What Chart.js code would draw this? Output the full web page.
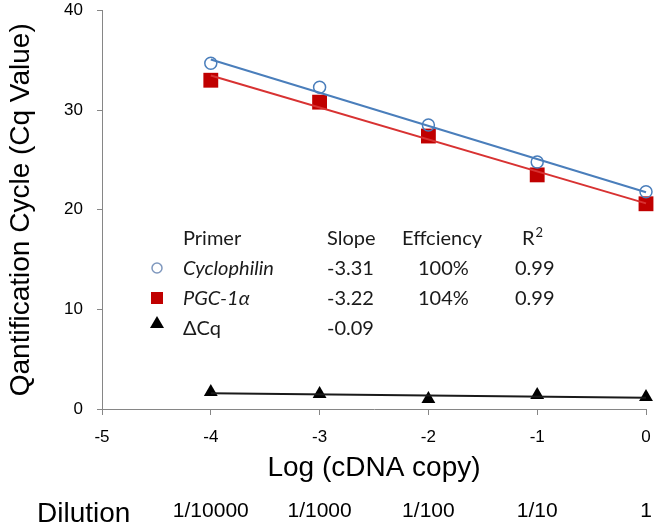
<!DOCTYPE html>
<html><head><meta charset="utf-8">
<script src="https://cdn.jsdelivr.net/npm/chart.js@4/dist/chart.umd.min.js"></script>
<style>html,body{margin:0;padding:0;background:#fff;overflow:hidden}#wrap{width:657px;height:527px;position:relative}</style>
</head><body><div id="wrap"><canvas id="c" width="657" height="527"></canvas></div>
<script>
// ---- data ----
const logCopy = [-4, -3, -2, -1, 0];
const dilutionLabels = ['1/10000', '1/1000', '1/100', '1/10', '1'];
const cyclophilin = [34.7, 32.3, 28.5, 24.8, 21.8];
const pgc1a = [33.0, 30.8, 27.4, 23.5, 20.6];
const deltaCq = [1.7, 1.5, 1.0, 1.4, 1.2];
const xRange = [-5, 0];
const yRange = [0, 40];
const tableHeader = ['Primer', 'Slope', 'Effciency', 'R'];
const primerNames = ['Cyclophilin', 'PGC-1α', 'ΔCq'];
const slopes = ['-3.31', '-3.22', '-0.09'];
const efficiencies = ['100%', '104%', ''];
const rSquared = ['0.99', '0.99', ''];

// linear trendline endpoints derived from the data
function trend(xs, ys) {
  const n = xs.length;
  const mx = xs.reduce((a, b) => a + b, 0) / n;
  const my = ys.reduce((a, b) => a + b, 0) / n;
  let sxy = 0, sxx = 0;
  for (let i = 0; i < n; i++) { sxy += (xs[i] - mx) * (ys[i] - my); sxx += (xs[i] - mx) ** 2; }
  const b = sxy / sxx, a = my - b * mx;
  const x0 = xs[0], x1 = xs[n - 1];
  return [{ x: x0, y: a + b * x0 }, { x: x1, y: a + b * x1 }];
}
const pts = ys => logCopy.map((x, i) => ({ x: x, y: ys[i] }));

const BLUE = '#4A7EBB', RED = '#C00000', RED_LINE = '#D83232', GRAY = '#868686';
const SANS = '"Liberation Sans", Arial, sans-serif';
const TABLE_FONT = 'Lato, "Open Sans", sans-serif';

function noPad(s) { s.paddingTop = 0; s.paddingBottom = 0; s.paddingLeft = 0; s.paddingRight = 0; }

const extras = {
  id: 'extras',
  afterDraw(chart) {
    const ctx = chart.ctx;
    ctx.save();
    // Dilution row label
    ctx.fillStyle = '#000';
    ctx.font = '28px ' + SANS;
    ctx.textBaseline = 'alphabetic';
    ctx.textAlign = 'left';
    ctx.fillText('Dilution', 37, 522);

    // inset table
    ctx.font = '20px ' + TABLE_FONT;
    ctx.fillStyle = '#1a1a1a';
    const colX = [183, 327, 402, 522];
    const headY = 245;
    ctx.fillText(tableHeader[0], colX[0], headY);
    ctx.fillText(tableHeader[1], colX[1], headY);
    ctx.fillText(tableHeader[2], colX[2], headY);
    ctx.fillText(tableHeader[3], colX[3], headY);
    const rw = ctx.measureText(tableHeader[3]).width;
    ctx.font = '13px ' + TABLE_FONT;
    ctx.fillText('2', colX[3] + rw + 1, headY - 8);

    const rowY = [275, 305, 335];
    for (let i = 0; i < primerNames.length; i++) {
      const y = rowY[i];
      ctx.font = (i < 2 ? 'italic ' : '') + '20px ' + TABLE_FONT;
      ctx.fillStyle = '#1a1a1a';
      ctx.fillText(primerNames[i], 183, y);
      ctx.font = '20px ' + TABLE_FONT;
      ctx.fillText(slopes[i], 327, y);
      if (efficiencies[i]) ctx.fillText(efficiencies[i], 418, y);
      if (rSquared[i]) ctx.fillText(rSquared[i], 515, y);
    }
    // markers
    const mx = 157;
    ctx.beginPath();
    ctx.strokeStyle = '#7F98BE';
    ctx.lineWidth = 1.5;
    ctx.arc(mx, rowY[0] - 7, 5, 0, Math.PI * 2);
    ctx.stroke();
    ctx.fillStyle = RED;
    ctx.fillRect(mx - 6, rowY[1] - 13, 12, 12);
    ctx.fillStyle = '#000';
    ctx.beginPath();
    ctx.moveTo(mx, rowY[2] - 19);
    ctx.lineTo(mx + 7, rowY[2] - 7);
    ctx.lineTo(mx - 7, rowY[2] - 7);
    ctx.closePath();
    ctx.fill();
    ctx.restore();
  }
};

new Chart(document.getElementById('c'), {
  type: 'scatter',
  data: {
    datasets: [
      { label: 'Cyclophilin trend', type: 'line', data: trend(logCopy, cyclophilin), borderColor: BLUE, borderWidth: 2, pointRadius: 0, fill: false, order: 0 },
      { label: 'PGC-1α trend', type: 'line', data: trend(logCopy, pgc1a), borderColor: RED_LINE, borderWidth: 2, pointRadius: 0, fill: false, order: 0 },
      { label: 'ΔCq trend', type: 'line', data: trend(logCopy, deltaCq), borderColor: '#1a1a1a', borderWidth: 2, pointRadius: 0, fill: false, order: 0 },
      { label: 'Cyclophilin', data: pts(cyclophilin), pointStyle: 'circle', pointRadius: 6, borderColor: BLUE, backgroundColor: 'rgba(255,255,255,0)', borderWidth: 1.5, order: 1 },
      { label: 'PGC-1α', data: pts(pgc1a), pointStyle: 'rect', pointRadius: 10.5, borderColor: RED, backgroundColor: RED, borderWidth: 0, order: 1 },
      { label: 'ΔCq', data: pts(deltaCq), pointStyle: 'triangle', pointRadius: 8, borderColor: '#000', backgroundColor: '#000', borderWidth: 0, order: 1 }
    ]
  },
  options: {
    responsive: false,
    animation: false,
    clip: false,
    layout: { padding: { top: 10, right: 11, left: 0, bottom: 0 } },
    plugins: { legend: { display: false }, tooltip: { enabled: false } },
    scales: {
      x: {
        type: 'linear', position: 'bottom', min: xRange[0], max: xRange[1],
        ticks: { stepSize: 1, color: '#000', font: { family: SANS, size: 17 }, padding: 12, maxRotation: 0 },
        grid: { display: true, drawOnChartArea: false, drawTicks: true, tickLength: 6, color: GRAY },
        border: { color: GRAY, width: 1 },
        title: { display: true, text: 'Log (cDNA copy)', color: '#000', font: { family: SANS, size: 28 }, padding: { top: 0, bottom: 4 } },
        afterFit(s) { s.height = 80; noPad(s); }
      },
      x2: {
        type: 'linear', position: 'bottom', min: xRange[0], max: xRange[1],
        ticks: {
          stepSize: 1, color: '#000', font: { family: SANS, size: 21 }, padding: 10, maxRotation: 0, autoSkip: false,
          callback: v => { const i = logCopy.indexOf(v); return i >= 0 ? dilutionLabels[i] : ''; }
        },
        grid: { display: false, drawTicks: false },
        border: { display: false },
        afterFit(s) { s.height = 38; noPad(s); }
      },
      y: {
        type: 'linear', position: 'left', min: yRange[0], max: yRange[1],
        ticks: { stepSize: 10, color: '#000', font: { family: SANS, size: 17 }, padding: 14 },
        grid: { display: true, drawOnChartArea: false, drawTicks: true, tickLength: 5, color: GRAY },
        border: { color: GRAY, width: 1 },
        title: { display: true, text: 'Qantification Cycle (Cq Value)', color: '#000', font: { family: SANS, size: 28 }, padding: { top: 4, bottom: 0 } },
        afterFit(s) { s.width = 102; noPad(s); }
      }
    }
  },
  plugins: [extras]
});
</script></body></html>
